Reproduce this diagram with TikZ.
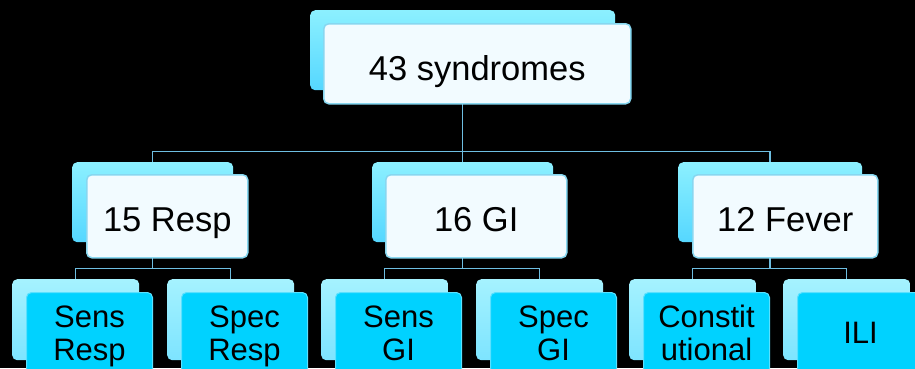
\documentclass[tikz,border=0pt]{standalone}
\usepackage{fontspec}
\setmainfont{Liberation Sans}
\definecolor{connc}{RGB}{110,190,225}
\definecolor{backtop}{RGB}{140,240,255}
\definecolor{backbot}{RGB}{85,215,255}
\definecolor{lbacktop}{RGB}{165,242,255}
\definecolor{lbackbot}{RGB}{125,228,255}
\definecolor{frontfill}{RGB}{242,251,255}
\definecolor{frontline}{RGB}{135,215,240}
\definecolor{leaffill}{RGB}{0,210,255}
\definecolor{leafline}{RGB}{90,225,255}
\tikzset{
  box/.style={rectangle, rounded corners=5pt, inner sep=0pt, anchor=north west},
  backbox/.style={box, top color=backtop, bottom color=backbot},
  frontbox/.style={box, fill=frontfill, draw=frontline, line width=1.5pt, text=black,
    font=\fontsize{34.5}{40}\selectfont},
  leafback/.style={box, top color=lbacktop, bottom color=lbackbot, minimum width=127pt, minimum height=81pt},
  leafbox/.style={box, fill=leaffill, draw=leafline, line width=1pt, align=center, text=black,
    minimum width=126pt, minimum height=81pt, font=\fontsize{31}{33}\selectfont},
  twoline/.style={text height=55pt, text depth=0pt},
  conn/.style={draw=connc, line width=1.5pt},
}
\begin{document}
\begin{tikzpicture}[x=1pt,y=-1pt]
\useasboundingbox (0,0) rectangle (915,368);
\clip (0,0) rectangle (915,368);
\fill[black] (0,0) rectangle (915,368);

% level 1
\node[backbox, minimum width=305pt, minimum height=80pt] (b0) at (310,10) {};
% level 2
\node[backbox, minimum width=161pt, minimum height=80pt] (b1) at (72,162) {};
\node[backbox, minimum width=181pt, minimum height=80pt] (b2) at (372,162) {};
\node[backbox, minimum width=184pt, minimum height=80pt] (b3) at (678,162) {};
% level 3 back boxes
\node[leafback] (c1) at (12,279) {};
\node[leafback] (c2) at (167,279) {};
\node[leafback] (c3) at (321,279) {};
\node[leafback] (c4) at (476,279) {};
\node[leafback] (c5) at (629,279) {};
\node[leafback] (c6) at (783,279) {};

% connectors
\draw[conn] (b0.south) -- ++(0,61) -| (b1.north);
\draw[conn] (b0.south) -- ++(0,61) -| (b2.north);
\draw[conn] (b0.south) -- ++(0,61) -| (b3.north);
\draw[conn] (b1.south) -- ++(0,26) -| (c1.north);
\draw[conn] (b1.south) -- ++(0,26) -| (c2.north);
\draw[conn] (b2.south) -- ++(0,26) -| (c3.north);
\draw[conn] (b2.south) -- ++(0,26) -| (c4.north);
\draw[conn] (b3.south) -- ++(0,26) -| (c5.north);
\draw[conn] (b3.south) -- ++(0,26) -| (c6.north);

% front boxes
\node[frontbox, minimum width=307pt, minimum height=80pt, text height=34pt, text depth=0pt] (f0) at (323,23) {43 syndromes};
\node[frontbox, minimum width=161pt, minimum height=83pt, text height=31pt, text depth=0pt] (f1) at (86,174) {15 Resp};
\node[frontbox, minimum width=181pt, minimum height=83pt, text height=31pt, text depth=0pt] (f2) at (385,174) {16 GI};
\node[frontbox, minimum width=185pt, minimum height=83pt, text height=31pt, text depth=0pt] (f3) at (692,174) {12 Fever};

\node[leafbox, twoline] (d1) at (26,292) {Sens\\Resp};
\node[leafbox, twoline] (d2) at (181,292) {Spec\\Resp};
\node[leafbox, twoline] (d3) at (335,292) {Sens\\GI};
\node[leafbox, twoline] (d4) at (490,292) {Spec\\GI};
\node[leafbox, twoline] (d5) at (643,292) {Constit\\utional};
\node[leafbox] (d6) at (797,292) {ILI};
\end{tikzpicture}
\end{document}
